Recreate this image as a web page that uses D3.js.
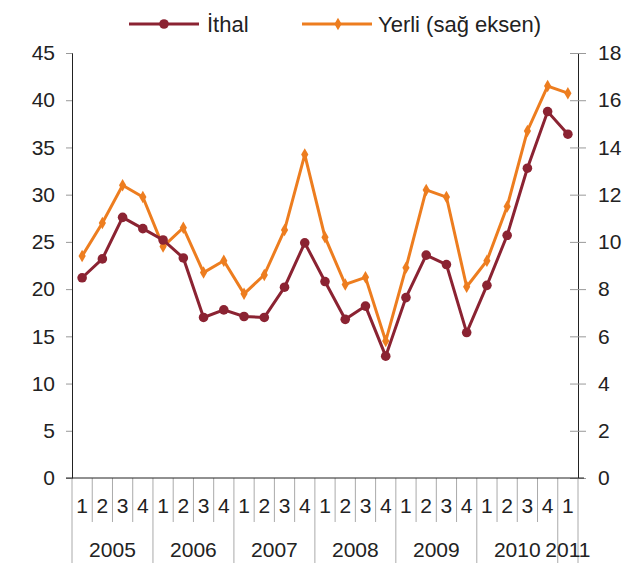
<!doctype html>
<html>
<head>
<meta charset="utf-8">
<style>
    body { margin: 0; background: #fff; }
    text { font-family: "Liberation Sans", Arial, sans-serif; fill: #222; }
</style>
<script src="https://d3js.org/d3.v7.min.js"></script>
</head>
<body>
<svg width="639" height="563"></svg>
<script>
    // quarters 2005Q1 .. 2011Q1
    var quarters = ["1","2","3","4","1","2","3","4","1","2","3","4","1","2","3","4",
                    "1","2","3","4","1","2","3","4","1"];
    var years = ["2005","2006","2007","2008","2009","2010","2011"];
    var yearQuarters = [4, 4, 4, 4, 4, 4, 1];

    var ithal = [21.2, 23.2, 27.6, 26.4, 25.2, 23.3, 17.0, 17.8, 17.1, 17.0, 20.2, 24.9,
                 20.8, 16.8, 18.2, 12.9, 19.1, 23.6, 22.6, 15.4, 20.4, 25.7, 32.8, 38.8, 36.4];
    var yerli = [9.4, 10.8, 12.4, 11.9, 9.8, 10.6, 8.7, 9.2, 7.8, 8.6, 10.5, 13.7,
                 10.2, 8.2, 8.5, 5.8, 8.9, 12.2, 11.9, 8.1, 9.2, 11.5, 14.7, 16.6, 16.3];

    var leftTicks = [0, 5, 10, 15, 20, 25, 30, 35, 40, 45];
    var rightTicks = [0, 2, 4, 6, 8, 10, 12, 14, 16, 18];

    var cRed = "#8b2332", cOrange = "#ed7d1f";

    var svg = d3.select("svg"),
        mLeft = 72, mRight = 578, mTop = 53, mBottom = 478;

    var x = d3.scaleBand().domain(d3.range(quarters.length)).range([mLeft, mRight]).padding(0);
    var yL = d3.scaleLinear().domain([0, 45]).range([mBottom, mTop]);
    var yR = d3.scaleLinear().domain([0, 18]).range([mBottom, mTop]);

    // left axis
    svg.append("g")
       .attr("transform", "translate(" + mLeft + ",0)")
       .call(d3.axisLeft(yL).tickValues(leftTicks).tickSize(6).tickPadding(11))
       .call(function(g) {
           g.select(".domain").attr("stroke", "#222");
           g.selectAll(".tick line").attr("stroke", "#999");
           g.selectAll(".tick text").attr("font-size", "21px").attr("font-family", "Liberation Sans").attr("fill", "#222");
       });

    // right axis, ticks cross the line
    svg.append("g")
       .attr("transform", "translate(" + mRight + ",0)")
       .call(d3.axisRight(yR).tickValues(rightTicks).tickSize(8).tickPadding(12))
       .call(function(g) {
           g.select(".domain").attr("stroke", "#222");
           g.selectAll(".tick line").attr("stroke", "#999").attr("x1", -8);
           g.selectAll(".tick text").attr("font-size", "21px").attr("font-family", "Liberation Sans").attr("fill", "#222");
       });

    // category separators
    var bounds = d3.range(quarters.length + 1);
    var yearStarts = [0];
    yearQuarters.forEach(function(n, i) { yearStarts.push(yearStarts[i] + n); });

    svg.append("g").selectAll("line")
       .data(bounds)
       .enter().append("line")
       .attr("x1", function(i) { return i < quarters.length ? x(i) : x.range()[1]; })
       .attr("x2", function(i) { return i < quarters.length ? x(i) : x.range()[1]; })
       .attr("y1", mBottom)
       .attr("y2", function(i) { return yearStarts.indexOf(i) >= 0 ? 563 : 522; })
       .attr("stroke", "#aaa")
       .attr("stroke-width", 1);

    // bottom axis line
    svg.append("line")
       .attr("x1", mLeft - 6).attr("x2", mRight + 6)
       .attr("y1", mBottom).attr("y2", mBottom)
       .attr("stroke", "#222");

    svg.append("g").selectAll("text")
       .data(quarters)
       .enter().append("text")
       .attr("x", function(d, i) { return x(i) + x.bandwidth() / 2; })
       .attr("y", 513)
       .attr("text-anchor", "middle")
       .attr("font-size", "21px")
       .text(function(d) { return d; });

    svg.append("g").selectAll("text")
       .data(years)
       .enter().append("text")
       .attr("x", function(d, i) {
           return x(yearStarts[i]) + yearQuarters[i] * x.bandwidth() / 2;
       })
       .attr("y", 557)
       .attr("text-anchor", "middle")
       .attr("font-size", "21px")
       .text(function(d) { return d; });

    // lines
    var lineL = d3.line()
        .x(function(d, i) { return x(i) + x.bandwidth() / 2; })
        .y(function(d) { return yL(d); });
    var lineR = d3.line()
        .x(function(d, i) { return x(i) + x.bandwidth() / 2; })
        .y(function(d) { return yR(d); });

    svg.append("path").datum(yerli)
       .attr("d", lineR).attr("fill", "none")
       .attr("stroke", cOrange).attr("stroke-width", 3);
    svg.append("path").datum(ithal)
       .attr("d", lineL).attr("fill", "none")
       .attr("stroke", cRed).attr("stroke-width", 3);

    svg.append("g").selectAll("path")
       .data(yerli)
       .enter().append("path")
       .attr("d", d3.symbol().type(d3.symbolDiamond).size(45))
       .attr("transform", function(d, i) { return "translate(" + (x(i) + x.bandwidth() / 2) + "," + yR(d) + ")"; })
       .attr("fill", cOrange);

    svg.append("g").selectAll("circle")
       .data(ithal)
       .enter().append("circle")
       .attr("cx", function(d, i) { return x(i) + x.bandwidth() / 2; })
       .attr("cy", function(d) { return yL(d); })
       .attr("r", 4.8)
       .attr("fill", cRed);

    // legend
    var lg = svg.append("g");
    lg.append("line").attr("x1", 129).attr("x2", 199).attr("y1", 24).attr("y2", 24)
      .attr("stroke", cRed).attr("stroke-width", 3);
    lg.append("circle").attr("cx", 164).attr("cy", 24).attr("r", 4.8).attr("fill", cRed);
    lg.append("text").attr("x", 207).attr("y", 32).attr("font-size", "22px").text("İthal");

    lg.append("line").attr("x1", 302).attr("x2", 372).attr("y1", 24).attr("y2", 24)
      .attr("stroke", cOrange).attr("stroke-width", 3);
    lg.append("path").attr("d", d3.symbol().type(d3.symbolDiamond).size(45)())
      .attr("transform", "translate(338,24)").attr("fill", cOrange);
    lg.append("text").attr("x", 378).attr("y", 32).attr("font-size", "22px").text("Yerli (sağ eksen)");
</script>
</body>
</html>
